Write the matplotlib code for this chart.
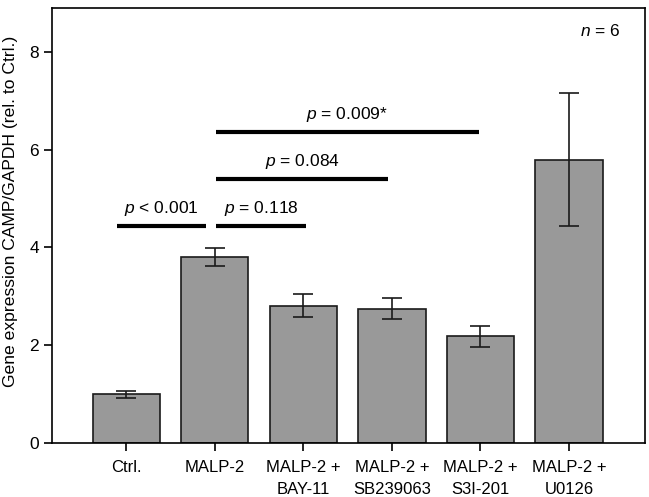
import matplotlib
matplotlib.use("Agg")
import matplotlib.pyplot as plt
import numpy as np

categories = ["Ctrl.", "MALP-2", "MALP-2 +\nBAY-11", "MALP-2 +\nSB239063", "MALP-2 +\nS3I-201", "MALP-2 +\nU0126"]
means = [1.00, 3.81, 2.81, 2.75, 2.18, 5.80]
errors = [0.07, 0.18, 0.23, 0.21, 0.22, 1.36]

# significance brackets: (x_start, x_end, y, label)
sig_x0 = [-0.10, 1.01, 1.01, 1.01]
sig_x1 = [0.90, 2.03, 2.96, 3.98]
sig_y = [4.44, 4.44, 5.41, 6.37]
sig_labels = ["$p$ < 0.001", "$p$ = 0.118", "$p$ = 0.084", "$p$ = 0.009*"]

plt.rcParams['font.family'] = ['Liberation Sans', 'DejaVu Sans']
plt.rcParams['mathtext.fontset'] = 'custom'
plt.rcParams['mathtext.rm'] = 'Liberation Sans'
plt.rcParams['mathtext.it'] = 'Liberation Sans:italic'

fig = plt.figure(figsize=(6.49, 4.97), dpi=100)
ax = fig.add_axes([52/649, 1-443/497, (645-52)/649, (443-8)/497])

x = np.arange(len(categories))
ax.bar(x, means, width=0.76, color='#999999', edgecolor='#1a1a1a', linewidth=1.2,
       yerr=errors, error_kw=dict(ecolor='#1a1a1a', elinewidth=1.2, capsize=7.5, capthick=1.2), zorder=2)

for x0, x1, y, lab in zip(sig_x0, sig_x1, sig_y, sig_labels):
    ax.plot([x0, x1], [y, y], color='black', lw=3, solid_capstyle='butt', zorder=3)
    ax.text((x0 + x1) / 2, y + 0.16, lab, ha='center', va='bottom', fontsize=12.5)

ax.text(0.958, 0.948, "$n$ = 6", transform=ax.transAxes, ha='right', va='center', fontsize=12.5)

ax.set_xlim(-0.84, 5.86)
ax.set_ylim(0, 8.9)
ax.set_yticks([0, 2, 4, 6, 8])
ax.set_xticks(x)
ax.set_xticklabels(categories, fontsize=12, linespacing=1.6)
ax.tick_params(axis='y', labelsize=12.5, direction='out', length=6, width=1.2)
ax.tick_params(axis='x', direction='out', length=6, width=1.2, pad=6)
for s in ax.spines.values():
    s.set_linewidth(1.2)
ax.set_ylabel("Gene expression CAMP/GAPDH (rel. to Ctrl.)", fontsize=12.6)
ax.yaxis.set_label_coords(-0.058, 0.532)

fig.savefig("out.png", dpi=100)
